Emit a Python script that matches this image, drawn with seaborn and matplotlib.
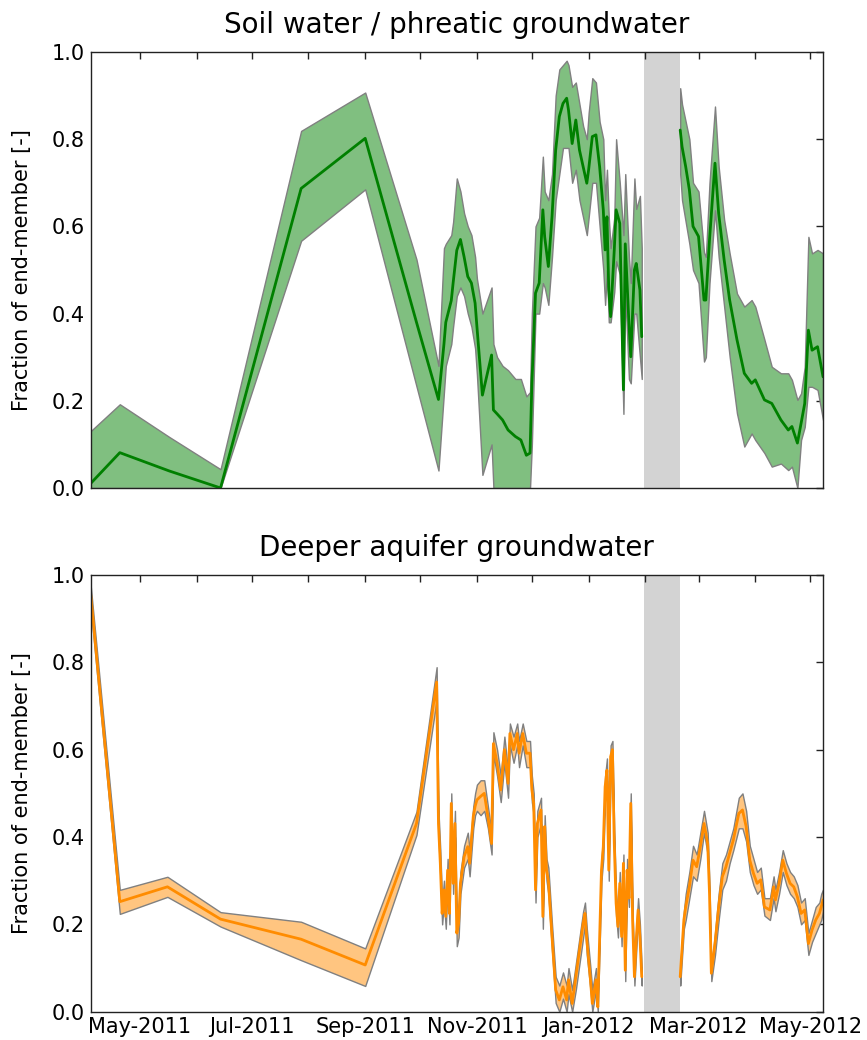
import pandas as pd
import matplotlib
matplotlib.use('Agg')
import matplotlib.pyplot as plt
import matplotlib.dates as mdates
import seaborn as sns

# gap in the record (shaded) and x range
gap_start = '2012-01-31'
gap_end = '2012-02-20'
x_start = '2011-04-04'
x_end = '2012-05-08'

# soil water / phreatic groundwater fraction (mean and bounds)
soil_dates = [
    '2011-04-04', '2011-04-20', '2011-05-17', '2011-06-14', '2011-07-28', '2011-09-01', '2011-09-29', '2011-10-11',
    '2011-10-14', '2011-10-15', '2011-10-18', '2011-10-19', '2011-10-21', '2011-10-23', '2011-10-25', '2011-10-27',
    '2011-10-29', '2011-10-31', '2011-11-01', '2011-11-04', '2011-11-09', '2011-11-10', '2011-11-12', '2011-11-15',
    '2011-11-18', '2011-11-22', '2011-11-25', '2011-11-28', '2011-11-30', '2011-12-01', '2011-12-03', '2011-12-05',
    '2011-12-07', '2011-12-08', '2011-12-10', '2011-12-12', '2011-12-14', '2011-12-16', '2011-12-18', '2011-12-20',
    '2011-12-21', '2011-12-23', '2011-12-25', '2011-12-27', '2011-12-29', '2011-12-31', '2012-01-01', '2012-01-03',
    '2012-01-05', '2012-01-07', '2012-01-09', '2012-01-10', '2012-01-11', '2012-01-12', '2012-01-13', '2012-01-15',
    '2012-01-16', '2012-01-18', '2012-01-20', '2012-01-21', '2012-01-23', '2012-01-24', '2012-01-26', '2012-01-27',
    '2012-01-29', '2012-01-30',
    '2012-02-20', '2012-02-21', '2012-02-23', '2012-02-25', '2012-02-27', '2012-03-01', '2012-03-04', '2012-03-05',
    '2012-03-07', '2012-03-10', '2012-03-12', '2012-03-15', '2012-03-18', '2012-03-22', '2012-03-26', '2012-03-30',
    '2012-04-01', '2012-04-06', '2012-04-10', '2012-04-15', '2012-04-19', '2012-04-21', '2012-04-24', '2012-04-26',
    '2012-04-28', '2012-04-30', '2012-05-02', '2012-05-05', '2012-05-08',
]
soil_mean = [
    0.01, 0.081, 0.039, 0.0, 0.687, 0.802, 0.38, 0.203,
    0.33, 0.38, 0.43, 0.47, 0.545, 0.57, 0.53, 0.485,
    0.47, 0.424, 0.37, 0.213, 0.305, 0.179, 0.17, 0.156,
    0.133, 0.118, 0.11, 0.075, 0.08, 0.24, 0.447, 0.47,
    0.638, 0.576, 0.508, 0.622, 0.775, 0.852, 0.882, 0.894,
    0.867, 0.79, 0.844, 0.775, 0.737, 0.699, 0.73, 0.806,
    0.81, 0.737, 0.638, 0.546, 0.622, 0.454, 0.393, 0.546,
    0.638, 0.607, 0.225, 0.56, 0.378, 0.301, 0.50, 0.515,
    0.454, 0.347,
    0.821, 0.783, 0.737, 0.684, 0.60, 0.577, 0.431, 0.431,
    0.569, 0.745, 0.63, 0.523, 0.431, 0.34, 0.263, 0.24,
    0.248, 0.202, 0.194, 0.156, 0.133, 0.141, 0.103, 0.148,
    0.194, 0.362, 0.316, 0.324, 0.255,
]
soil_low = [
    0.0, 0.0, 0.0, 0.0, 0.567, 0.685, 0.233, 0.04,
    0.22, 0.28, 0.33, 0.37, 0.44, 0.46, 0.44, 0.40,
    0.37, 0.32, 0.26, 0.03, 0.10, 0.0, 0.0, 0.0,
    0.0, 0.0, 0.0, 0.0, 0.0, 0.10, 0.40, 0.40,
    0.47, 0.46, 0.42, 0.53, 0.66, 0.72, 0.78, 0.78,
    0.78, 0.70, 0.73, 0.66, 0.62, 0.58, 0.62, 0.70,
    0.70, 0.60, 0.50, 0.42, 0.50, 0.38, 0.38, 0.45,
    0.52, 0.49, 0.17, 0.45, 0.25, 0.24, 0.40, 0.40,
    0.30, 0.25,
    0.72, 0.66, 0.61, 0.56, 0.50, 0.47, 0.29, 0.30,
    0.47, 0.637, 0.53, 0.416, 0.301, 0.171, 0.095, 0.125,
    0.11, 0.08, 0.049, 0.056, 0.041, 0.049, 0.0, 0.11,
    0.14, 0.232, 0.232, 0.225, 0.156,
]
soil_high = [
    0.13, 0.192, 0.117, 0.043, 0.819, 0.907, 0.524, 0.28,
    0.55, 0.56, 0.58, 0.61, 0.71, 0.68, 0.63, 0.60,
    0.58, 0.53, 0.48, 0.40, 0.46, 0.33, 0.30, 0.28,
    0.27, 0.25, 0.25, 0.21, 0.22, 0.40, 0.60, 0.62,
    0.76, 0.68, 0.66, 0.72, 0.90, 0.96, 0.97, 0.98,
    0.97, 0.92, 0.93, 0.88, 0.83, 0.80, 0.86, 0.94,
    0.93, 0.84, 0.80, 0.66, 0.73, 0.62, 0.55, 0.62,
    0.80, 0.70, 0.58, 0.72, 0.53, 0.47, 0.71, 0.64,
    0.67, 0.55,
    0.917, 0.88, 0.84, 0.80, 0.70, 0.68, 0.54, 0.53,
    0.70, 0.875, 0.737, 0.615, 0.538, 0.446, 0.416, 0.431,
    0.416, 0.34, 0.278, 0.263, 0.263, 0.248, 0.202, 0.217,
    0.278, 0.576, 0.538, 0.546, 0.538,
]

# deeper aquifer groundwater fraction (mean and bounds)
deep_dates = [
    '2011-04-04', '2011-04-20', '2011-05-16', '2011-06-14', '2011-07-28', '2011-09-01', '2011-09-29', '2011-10-10',
    '2011-10-11', '2011-10-12', '2011-10-13', '2011-10-14', '2011-10-15', '2011-10-16', '2011-10-17', '2011-10-18',
    '2011-10-19', '2011-10-20', '2011-10-21', '2011-10-22', '2011-10-23', '2011-10-25', '2011-10-27', '2011-10-28',
    '2011-10-30', '2011-10-31', '2011-11-01', '2011-11-03', '2011-11-05', '2011-11-07', '2011-11-09', '2011-11-10',
    '2011-11-12', '2011-11-14', '2011-11-16', '2011-11-18', '2011-11-19', '2011-11-21', '2011-11-23', '2011-11-24',
    '2011-11-26', '2011-11-28', '2011-11-30', '2011-12-01', '2011-12-02', '2011-12-03', '2011-12-04', '2011-12-06',
    '2011-12-07', '2011-12-08', '2011-12-09', '2011-12-10', '2011-12-12', '2011-12-14', '2011-12-16', '2011-12-18',
    '2011-12-20', '2011-12-21', '2011-12-23', '2011-12-25', '2011-12-27', '2011-12-29', '2011-12-30', '2011-12-31',
    '2012-01-02', '2012-01-03', '2012-01-05', '2012-01-06', '2012-01-08', '2012-01-09', '2012-01-10', '2012-01-11',
    '2012-01-12', '2012-01-13', '2012-01-14', '2012-01-15', '2012-01-16', '2012-01-17', '2012-01-18', '2012-01-19',
    '2012-01-20', '2012-01-21', '2012-01-22', '2012-01-23', '2012-01-24', '2012-01-25', '2012-01-26', '2012-01-27',
    '2012-01-28', '2012-01-29', '2012-01-30',
    '2012-02-20', '2012-02-22', '2012-02-23', '2012-02-25', '2012-02-27', '2012-02-29', '2012-03-02', '2012-03-04',
    '2012-03-06', '2012-03-07', '2012-03-08', '2012-03-10', '2012-03-12', '2012-03-14', '2012-03-16', '2012-03-18',
    '2012-03-20', '2012-03-23', '2012-03-25', '2012-03-27', '2012-03-29', '2012-03-31', '2012-04-02', '2012-04-04',
    '2012-04-06', '2012-04-09', '2012-04-11', '2012-04-12', '2012-04-14', '2012-04-16', '2012-04-18', '2012-04-20',
    '2012-04-22', '2012-04-24', '2012-04-26', '2012-04-28', '2012-04-30', '2012-05-02', '2012-05-04', '2012-05-06',
    '2012-05-07', '2012-05-08',
]
deep_mean = [
    0.96, 0.252, 0.286, 0.212, 0.166, 0.107, 0.431, 0.755,
    0.43, 0.34, 0.225, 0.279, 0.218, 0.324, 0.225, 0.477,
    0.294, 0.431, 0.18, 0.202, 0.294, 0.355, 0.378, 0.34,
    0.447, 0.47, 0.485, 0.493, 0.50, 0.447, 0.385, 0.614,
    0.569, 0.508, 0.60, 0.523, 0.637, 0.60, 0.637, 0.592,
    0.637, 0.592, 0.592, 0.508, 0.477, 0.279, 0.431, 0.462,
    0.218, 0.424, 0.324, 0.30, 0.172, 0.05, 0.027, 0.057,
    0.027, 0.073, 0.019, 0.08, 0.141, 0.202, 0.225, 0.164,
    0.073, 0.019, 0.073, 0.011, 0.324, 0.378, 0.515, 0.553,
    0.324, 0.584, 0.60, 0.385, 0.248, 0.195, 0.294, 0.172,
    0.34, 0.095, 0.324, 0.26, 0.477, 0.21, 0.08, 0.164,
    0.233, 0.172, 0.08,
    0.08, 0.21, 0.24, 0.286, 0.347, 0.332, 0.378, 0.431,
    0.385, 0.271, 0.088, 0.156, 0.24, 0.309, 0.332, 0.363,
    0.393, 0.454, 0.462, 0.424, 0.347, 0.317, 0.294, 0.302,
    0.24, 0.233, 0.286, 0.256, 0.294, 0.347, 0.317, 0.294,
    0.286, 0.263, 0.225, 0.233, 0.156, 0.187, 0.21, 0.225,
    0.24, 0.256,
]
deep_low = [
    0.93, 0.224, 0.263, 0.195, 0.118, 0.059, 0.405, 0.714,
    0.40, 0.31, 0.20, 0.25, 0.19, 0.30, 0.20, 0.45,
    0.27, 0.40, 0.15, 0.17, 0.27, 0.33, 0.35, 0.31,
    0.42, 0.45, 0.46, 0.45, 0.46, 0.42, 0.36, 0.59,
    0.54, 0.48, 0.57, 0.49, 0.61, 0.57, 0.61, 0.56,
    0.61, 0.56, 0.56, 0.48, 0.45, 0.25, 0.40, 0.43,
    0.19, 0.40, 0.30, 0.27, 0.14, 0.02, 0.0, 0.03,
    0.0, 0.04, 0.0, 0.05, 0.11, 0.17, 0.20, 0.13,
    0.05, 0.0, 0.05, 0.0, 0.30, 0.35, 0.49, 0.53,
    0.30, 0.56, 0.58, 0.36, 0.22, 0.17, 0.27, 0.15,
    0.32, 0.07, 0.30, 0.24, 0.45, 0.19, 0.06, 0.14,
    0.21, 0.15, 0.06,
    0.06, 0.19, 0.21, 0.26, 0.31, 0.30, 0.35, 0.41,
    0.36, 0.25, 0.07, 0.13, 0.21, 0.28, 0.30, 0.34,
    0.37, 0.42, 0.42, 0.39, 0.32, 0.29, 0.27, 0.28,
    0.22, 0.21, 0.26, 0.23, 0.27, 0.32, 0.29, 0.27,
    0.26, 0.24, 0.20, 0.21, 0.13, 0.16, 0.18, 0.20,
    0.21, 0.23,
]
deep_high = [
    0.98, 0.279, 0.309, 0.228, 0.206, 0.145, 0.458, 0.789,
    0.46, 0.37, 0.25, 0.30, 0.24, 0.35, 0.25, 0.50,
    0.32, 0.46, 0.21, 0.23, 0.32, 0.38, 0.41, 0.37,
    0.47, 0.50, 0.52, 0.53, 0.53, 0.47, 0.41, 0.64,
    0.60, 0.54, 0.63, 0.55, 0.66, 0.63, 0.66, 0.62,
    0.66, 0.62, 0.62, 0.54, 0.50, 0.30, 0.46, 0.49,
    0.24, 0.45, 0.35, 0.33, 0.20, 0.08, 0.06, 0.09,
    0.06, 0.10, 0.05, 0.11, 0.17, 0.23, 0.25, 0.19,
    0.10, 0.05, 0.10, 0.04, 0.35, 0.40, 0.54, 0.58,
    0.35, 0.61, 0.62, 0.41, 0.27, 0.22, 0.32, 0.20,
    0.36, 0.12, 0.35, 0.28, 0.50, 0.23, 0.10, 0.19,
    0.26, 0.20, 0.10,
    0.10, 0.23, 0.27, 0.32, 0.38, 0.36, 0.41, 0.46,
    0.41, 0.29, 0.10, 0.18, 0.27, 0.34, 0.36, 0.39,
    0.42, 0.49, 0.50, 0.46, 0.38, 0.35, 0.32, 0.33,
    0.26, 0.26, 0.31, 0.28, 0.32, 0.37, 0.34, 0.32,
    0.31, 0.29, 0.25, 0.26, 0.18, 0.21, 0.24, 0.25,
    0.27, 0.28,
]

sns.set_style('white')
plt.rcParams['font.family'] = ['DejaVu Sans']
plt.rcParams['text.color'] = 'black'
plt.rcParams['axes.labelcolor'] = 'black'
plt.rcParams['xtick.color'] = 'black'
plt.rcParams['ytick.color'] = 'black'


def draw_panel(ax, dates, mean, low, high, line_color, fill_color, title):
    df = pd.DataFrame({'date': pd.to_datetime(dates), 'mean': mean, 'low': low, 'high': high})
    ax.axvspan(pd.Timestamp(gap_start), pd.Timestamp(gap_end), facecolor='lightgray', lw=0, zorder=0)
    # the record is broken by the gap, draw both sides separately
    for part in (df[df['date'] < gap_start], df[df['date'] >= gap_end]):
        ax.fill_between(part['date'], part['low'], part['high'], facecolor=fill_color,
                        edgecolor='gray', lw=1, zorder=1)
        sns.lineplot(data=part, x='date', y='mean', ax=ax, color=line_color, lw=2,
                     estimator=None, sort=False, zorder=2)
    ax.set_xlim(pd.Timestamp(x_start), pd.Timestamp(x_end))
    ax.set_ylim(0, 1)
    ax.set_yticks([0.0, 0.2, 0.4, 0.6, 0.8, 1.0])
    ax.yaxis.set_major_formatter(matplotlib.ticker.FormatStrFormatter('%.1f'))
    ax.xaxis.set_major_locator(mdates.MonthLocator(bymonth=[1, 3, 5, 7, 9, 11]))
    ax.xaxis.set_minor_locator(mdates.MonthLocator())
    ax.xaxis.set_major_formatter(mdates.DateFormatter('%b-%Y'))
    ax.tick_params(which='both', direction='in', top=True, right=True, length=5,
                   width=1, color='#222222', labelcolor='black', labelsize=15, pad=4)
    for sp in ax.spines.values():
        sp.set_visible(True)
        sp.set_color('#222222')
        sp.set_linewidth(1)
    ax.set_xlabel('')
    ax.set_ylabel('Fraction of end-member [-]', fontsize=15, color='black')
    ax.yaxis.set_label_coords(-0.08, 0.5)
    ax.set_title(title, fontsize=20, pad=14, color='black')


fig = plt.figure(figsize=(8.67, 10.4), dpi=100)
ax_top = fig.add_axes([0.1044, 0.5308, 0.8449, 0.4192])
ax_bot = fig.add_axes([0.1044, 0.0272, 0.8449, 0.4199])

draw_panel(ax_top, soil_dates, soil_mean, soil_low, soil_high, 'green', '#80bf80',
           'Soil water / phreatic groundwater')
draw_panel(ax_bot, deep_dates, deep_mean, deep_low, deep_high, 'darkorange', '#ffc580',
           'Deeper aquifer groundwater')
ax_top.tick_params(labelbottom=False)

fig.savefig('out.png', dpi=100)
